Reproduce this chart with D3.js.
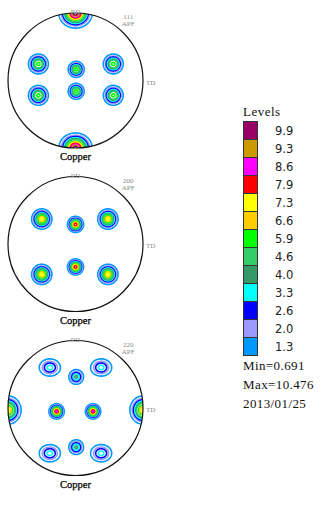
<!DOCTYPE html>
<html>
<head>
<meta charset="utf-8">
<script src="https://cdn.jsdelivr.net/npm/d3@7"></script>
<style>
  body { margin: 0; background: #fff; }
  svg { display: block; }
</style>
</head>
<body>
<svg id="chart" width="321" height="526"></svg>
<script>
// Contour levels (legend order, top to bottom) and their colours
const levels = [9.9, 9.3, 8.6, 7.9, 7.3, 6.6, 5.9, 4.6, 4.0, 3.3, 2.6, 2.0, 1.3];
const levelColors = ["#990066", "#cc9900", "#ff00ff", "#ff0000", "#ffff00", "#ffcc00",
                     "#00ff00", "#33cc66", "#339966", "#00ffff", "#0000ff", "#9999ff", "#0099ff"];

const figureLabels = ["111", "200", "220"];
const materialName = "Copper";
const minValue = 0.691;
const maxValue = 10.476;
const dateLabel = "2013/01/25";
const background = 0.7;

// Poles: [x (TD), y (RD), intensity at pole, spread x, spread y] in projection units
const poles111 = [
  [0.00, 1.00, 10.45, 0.105, 0.095],
  [0.00, -1.00, 10.2, 0.105, 0.095],
  [-0.55, 0.245, 6.2, 0.070, 0.070],
  [0.56, 0.245, 6.2, 0.070, 0.070],
  [-0.55, -0.22, 6.2, 0.070, 0.070],
  [0.56, -0.22, 6.2, 0.070, 0.070],
  [0.01, 0.165, 6.3, 0.056, 0.056],
  [0.01, -0.16, 6.3, 0.056, 0.056]
];
const poles200 = [
  [-0.50, 0.37, 7.6, 0.068, 0.068],
  [0.48, 0.37, 7.6, 0.068, 0.068],
  [-0.50, -0.45, 7.6, 0.068, 0.068],
  [0.48, -0.45, 7.6, 0.068, 0.068],
  [0.00, 0.29, 8.4, 0.053, 0.053],
  [0.00, -0.34, 8.4, 0.053, 0.053]
];
const poles220 = [
  [-0.38, 0.60, 3.6, 0.088, 0.072],
  [0.38, 0.60, 3.6, 0.088, 0.072],
  [-0.38, -0.67, 3.6, 0.088, 0.072],
  [0.38, -0.67, 3.6, 0.088, 0.072],
  [0.01, 0.46, 4.2, 0.058, 0.058],
  [0.01, -0.58, 4.2, 0.058, 0.058],
  [-0.28, -0.05, 8.8, 0.050, 0.050],
  [0.26, -0.05, 8.8, 0.050, 0.050],
  [-1.00, -0.03, 7.5, 0.088, 0.095],
  [1.00, -0.03, 7.5, 0.088, 0.095]
];
const figurePoles = [poles111, poles200, poles220];

// Layout
const R = 67.5;
const centerX = 75.5;
const centerYs = [80.5, 244, 408];
const cell = 0.5;

const svg = d3.select("#chart");
const ascending = levels.map((v, i) => ({ v, c: levelColors[i] })).sort((a, b) => a.v - b.v);

figurePoles.forEach((poles, k) => {
  const cy = centerYs[k];
  const x = d3.scaleLinear().domain([-1, 1]).range([centerX - R, centerX + R]);
  const y = d3.scaleLinear().domain([-1, 1]).range([cy + R, cy - R]);

  // intensity grid over the projection disc
  const x0 = centerX - R - 3, y0 = cy - R - 3;
  const n = Math.ceil((2 * R + 6) / cell);
  const values = new Float64Array(n * n);
  for (let j = 0; j < n; j++) {
    const v = y.invert(y0 + (j + 0.5) * cell);
    for (let i = 0; i < n; i++) {
      const u = x.invert(x0 + (i + 0.5) * cell);
      let f = background;
      for (const [px, py, peak, sx, sy] of poles) {
        const dx = u - px, dy = v - py;
        f += (peak - background) * Math.exp(-(dx * dx) / (2 * sx * sx) - (dy * dy) / (2 * sy * sy));
      }
      values[j * n + i] = f;
    }
  }

  const contours = d3.contours().size([n, n]).thresholds(ascending.map(d => d.v))(values);
  const path = d3.geoPath(d3.geoIdentity().scale(cell).translate([x0, y0]));

  const g = svg.append("g");
  const clipId = "clip" + k;
  g.append("clipPath").attr("id", clipId)
    .append("circle").attr("cx", x(0)).attr("cy", y(0)).attr("r", R);

  g.append("g").attr("clip-path", `url(#${clipId})`)
    .selectAll("path")
    .data(contours)
    .join("path")
    .attr("d", path)
    .attr("fill", "none")
    .attr("stroke", d => ascending.find(a => a.v === d.value).c)
    .attr("stroke-width", 1.6);

  g.append("circle")
    .attr("cx", x(0)).attr("cy", y(0)).attr("r", R)
    .attr("fill", "none").attr("stroke", "#111").attr("stroke-width", 1.2);

  const small = { "font-family": "Liberation Serif, serif", "font-size": "7px", fill: "#8a8a8a" };
  const t = (sel, attrs) => { Object.entries(attrs).forEach(([a, b]) => sel.style(a, b)); return sel; };

  t(g.append("text").attr("x", x(0)).attr("y", y(1) + 1).attr("text-anchor", "middle").text("RD"), small);
  t(g.append("text").attr("x", x(0.78)).attr("y", y(0.94) + 2).attr("text-anchor", "middle").text(figureLabels[k]), small);
  t(g.append("text").attr("x", x(0.78)).attr("y", y(0.94) + 9).attr("text-anchor", "middle").text("APF"), small);
  t(g.append("text").attr("x", x(1) + 3).attr("y", y(0) + 4).attr("text-anchor", "start").text("TD"), small);
  g.append("text")
    .attr("x", x(0)).attr("y", y(-1) + 12)
    .attr("text-anchor", "middle")
    .style("font-family", "Liberation Serif, serif")
    .style("font-size", "10.5px")
    .style("fill", "#000")
    .style("stroke", "#000").style("stroke-width", 0.25)
    .text(materialName);
});

// Legend
const legend = svg.append("g");
const swTop = 121, swH = 18, swX = 243, swW = 14;
const band = d3.scaleBand().domain(levels.map(String)).range([swTop, swTop + swH * levels.length]).padding(0);

legend.append("text")
  .attr("x", swX).attr("y", 116)
  .style("font-family", "Liberation Serif, serif").style("font-size", "13px")
  .style("letter-spacing", "0.5px").style("fill", "#111")
  .text("Levels");

legend.selectAll("rect")
  .data(levels)
  .join("rect")
  .attr("x", swX + 0.5).attr("y", d => band(String(d)) + 0.5)
  .attr("width", swW).attr("height", band.bandwidth())
  .attr("fill", (d, i) => levelColors[i])
  .attr("stroke", "#333").attr("stroke-width", 1);

legend.selectAll("text.lv")
  .data(levels)
  .join("text")
  .attr("class", "lv")
  .attr("x", 275).attr("y", d => band(String(d)) + band.bandwidth() / 2 + 4.5)
  .style("font-family", "DejaVu Sans, sans-serif").style("font-size", "11.5px")
  .style("fill", "#222")
  .text(d => d.toFixed(1));

const info = [`Min=${minValue}`, `Max=${maxValue}`, dateLabel];
legend.selectAll("text.info")
  .data(info)
  .join("text")
  .attr("class", "info")
  .attr("x", swX).attr("y", (d, i) => 370 + i * 19)
  .style("font-family", "Liberation Serif, serif").style("font-size", "13px")
  .style("letter-spacing", "0.4px").style("fill", "#111")
  .text(d => d);
</script>
</body>
</html>
